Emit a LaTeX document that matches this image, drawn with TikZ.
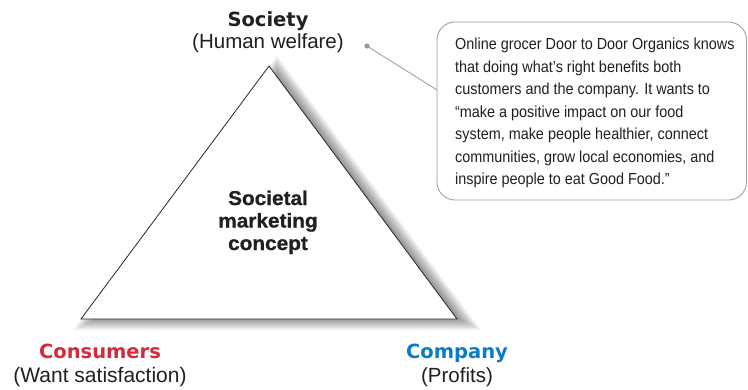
\documentclass[tikz,border=0pt]{standalone}
\usepackage{fontspec}
\usetikzlibrary{calc}
\setmainfont{Liberation Sans}
\newfontfamily\condensed[FakeStretch=0.9]{Liberation Sans}
\newfontfamily\heavy{DejaVu Sans Bold}
\newfontfamily\boldish[FakeStretch=1.04,FakeBold=0.8]{Liberation Sans Bold}
\definecolor{txt}{HTML}{231F20}
\definecolor{redc}{HTML}{D42A3A}
\definecolor{bluec}{HTML}{0A7CC6}
\definecolor{edge}{HTML}{9A9A9A}
\begin{document}
\begin{tikzpicture}[x=1pt,y=-1pt,
  heading/.style={font={\heavy\fontsize{19.5}{22}\selectfont}, inner sep=0pt, anchor=base},
  sub/.style={font={\fontsize{20.5}{22}\selectfont}, text=txt, inner sep=0pt, anchor=base},
  callout/.style={draw=edge, line width=0.8pt, rounded corners=18pt},
  ]
\useasboundingbox (0,0) rectangle (748,389);
\fill[white] (0,0) rectangle (748,389);
% triangle and soft shadow
\coordinate (A) at (269,66);
\coordinate (B) at (81,319);
\coordinate (C) at (457,319);
\coordinate (I) at (269,224.5);
\foreach \d in {-4,...,8}{
  \pgfmathsetmacro\s{1+\d/94.5}
  \fill[black, opacity=0.04] ($(I)!\s!(A)+(8,3)$) -- ($(I)!\s!(B)+(8,3)$) -- ($(I)!\s!(C)+(8,3)$) -- cycle;
}
\fill[white] (A) -- (B) -- (C) -- cycle;
\draw[line width=0.8pt, black!85, line join=miter] (A) -- (B) -- (C) -- cycle;
% centre text
\node[font={\boldish\fontsize{20}{22.5}\selectfont}, text=txt, align=center, inner sep=0pt, anchor=base] (core) at (268,250) {Societal\\marketing\\concept};
% vertex labels
\node[heading, text=txt] (soc) at (268,26) {Society};
\node[sub] (socw) at (268,48) {(Human welfare)};
\node[heading, text=redc] (con) at (100,358) {Consumers};
\node[sub, font={\fontsize{21}{22}\selectfont}] (conw) at (100,382) {(Want satisfaction)};
\node[heading, text=bluec] (com) at (457,358) {Company};
\node[sub] (comw) at (457,382) {(Profits)};
% callout
\draw[callout] (437,22) rectangle (746.5,200);
\coordinate (box) at (437,90);
\coordinate (dot) at (367,46);
\fill[edge] (dot) circle (2.6pt);
\draw[edge, line width=0.8pt] (dot) -- (box);
\node[font={\condensed\fontsize{16}{22.5}\selectfont}, text=txt, align=left, inner sep=0pt, anchor=north west] (note) at (455,38) {Online grocer Door to Door Organics knows\\that doing what’s right benefits both\\customers and the company. It wants to\\“make a positive impact on our food\\system, make people healthier, connect\\communities, grow local economies, and\\inspire people to eat Good Food.”};
\end{tikzpicture}
\end{document}
